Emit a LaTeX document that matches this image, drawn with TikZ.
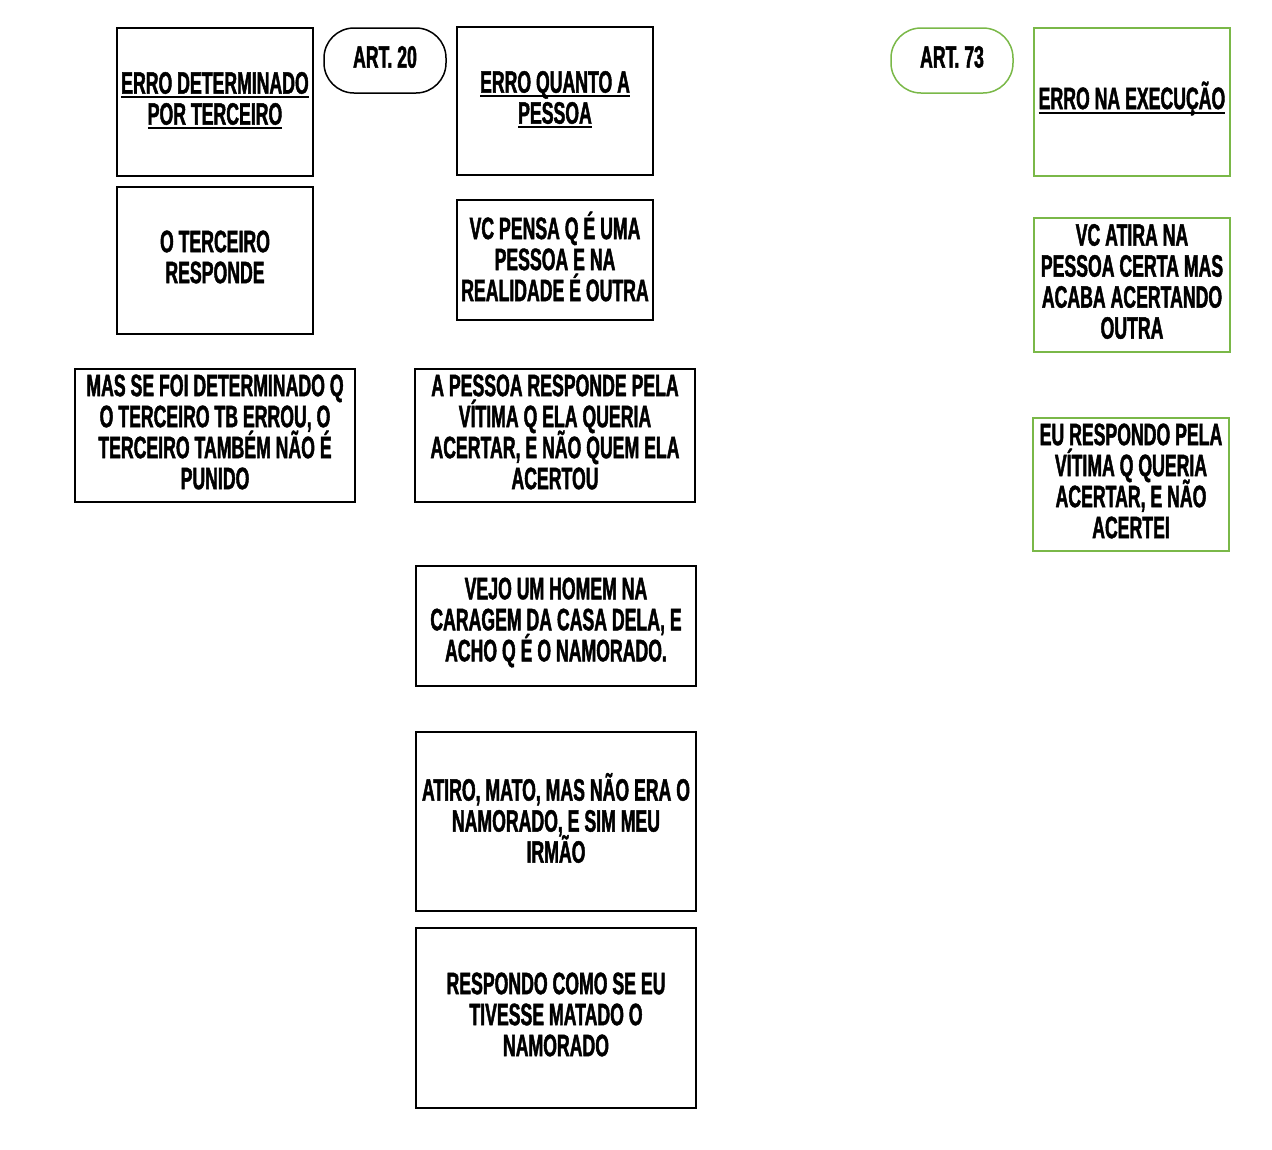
\documentclass[tikz,border=0pt]{standalone}
\usepackage{fontspec}
\newfontfamily\bebas{Liberation Sans Bold}[FakeStretch=0.57,FakeBold=1.4]
\definecolor{boxgreen}{RGB}{122,184,72}
\newsavebox{\ulbox}
\newcommand{\ulline}[1]{\sbox{\ulbox}{#1}\smash{\rlap{\vrule width\wd\ulbox height -2.5pt depth 4.5pt}}\usebox{\ulbox}}
\newcommand{\txtfont}{\bebas\fontsize{31}{31}\selectfont\lineskiplimit=-60pt\relax\lineskip=0pt\relax}
\tikzset{
  box/.style={draw=black, line width=1.5pt, rectangle, inner sep=0pt},
  gbox/.style={box, draw=boxgreen},
  pill/.style={box, rounded corners=30pt, minimum width=122pt, minimum height=65pt},
  gpill/.style={pill, draw=boxgreen},
  txt/.style={inner sep=0pt, align=center, font=\txtfont}
}
\begin{document}
\begin{tikzpicture}[x=1pt,y=-1pt]
\useasboundingbox (0,0) rectangle (1272,1149);
% left column
\node[box, minimum width=196pt, minimum height=148pt] (a1) at (215,102) {};
\node[txt] (a1t) at ([yshift=3.5pt]a1.center) {\ulline{ERRO DETERMINADO}\\\ulline{POR TERCEIRO}};
\node[box, minimum width=196pt, minimum height=147pt] (a2) at (215,260.5) {};
\node[txt] (a2t) at ([yshift=3.5pt]a2.center) {O TERCEIRO\\RESPONDE};
\node[box, minimum width=280pt, minimum height=133pt] (a3) at (215,435.5) {};
\node[txt] (a3t) at ([yshift=3.5pt]a3.center) {MAS SE FOI DETERMINADO Q\\O TERCEIRO TB ERROU, O\\TERCEIRO TAMBÉM NÃO É\\PUNIDO};
\node[pill] (art20) at (385,60.5) {};
\node[txt] (art20t) at ([yshift=3.5pt]art20.center) {ART. 20};
% middle column
\node[box, minimum width=196pt, minimum height=148pt] (b1) at (555,101) {};
\node[txt] (b1t) at ([yshift=3.5pt]b1.center) {\ulline{ERRO QUANTO A}\\\ulline{PESSOA}};
\node[box, minimum width=196pt, minimum height=120pt] (b2) at (555,260) {};
\node[txt] (b2t) at ([yshift=3.5pt]b2.center) {VC PENSA Q É UMA\\PESSOA E NA\\REALIDADE É OUTRA};
\node[box, minimum width=280pt, minimum height=133pt] (b3) at (555,435.5) {};
\node[txt] (b3t) at ([yshift=3.5pt]b3.center) {A PESSOA RESPONDE PELA\\VÍTIMA Q ELA QUERIA\\ACERTAR, E NÃO QUEM ELA\\ACERTOU};
\node[box, minimum width=280pt, minimum height=120pt] (b4) at (556,626) {};
\node[txt] (b4t) at ([yshift=3.5pt]b4.center) {VEJO UM HOMEM NA\\CARAGEM DA CASA DELA, E\\ACHO Q É O NAMORADO.};
\node[box, minimum width=280pt, minimum height=179pt] (b5) at (556,821.5) {};
\node[txt] (b5t) at ([yshift=3.5pt]b5.center) {ATIRO, MATO, MAS NÃO ERA O\\NAMORADO, E SIM MEU\\IRMÃO};
\node[box, minimum width=280pt, minimum height=180pt] (b6) at (556,1018) {};
\node[txt] (b6t) at ([yshift=3.5pt]b6.center) {RESPONDO COMO SE EU\\TIVESSE MATADO O\\NAMORADO};
% right column
\node[gpill] (art73) at (952,60.5) {};
\node[txt] (art73t) at ([yshift=3.5pt]art73.center) {ART. 73};
\node[gbox, minimum width=196pt, minimum height=148pt] (c1) at (1132,102) {};
\node[txt] (c1t) at ([yshift=3.5pt]c1.center) {\ulline{ERRO NA EXECUÇÃO}};
\node[gbox, minimum width=196pt, minimum height=134pt] (c2) at (1132,285) {};
\node[txt] (c2t) at ([yshift=3.5pt]c2.center) {VC ATIRA NA\\PESSOA CERTA MAS\\ACABA ACERTANDO\\OUTRA};
\node[gbox, minimum width=196pt, minimum height=133pt] (c3) at (1131,484.5) {};
\node[txt] (c3t) at ([yshift=3.5pt]c3.center) {EU RESPONDO PELA\\VÍTIMA Q QUERIA\\ACERTAR, E NÃO\\ACERTEI};
\end{tikzpicture}
\end{document}
